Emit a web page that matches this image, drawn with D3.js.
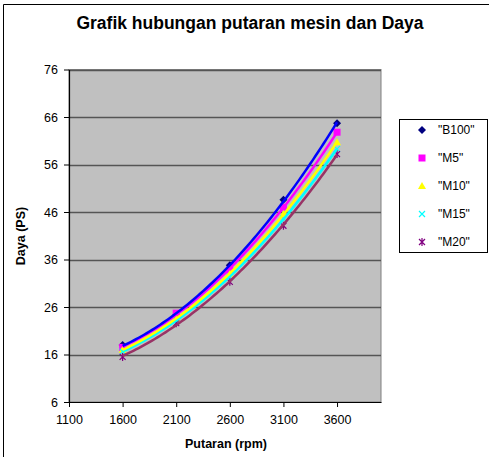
<!DOCTYPE html>
<html>
<head>
<meta charset="utf-8">
<script src="https://cdn.jsdelivr.net/npm/d3@7"></script>
<style>
  body { margin: 0; background: #fff; }
  svg { font-family: "Liberation Sans", Arial, sans-serif; }
</style>
</head>
<body>
<div id="chart"></div>
<script>
(() => {
    // data
    let rpm = [1600, 2100, 2600, 3100, 3600];
    let b100 = [18.0, 24.3, 34.8, 48.6, 64.7];
    let m5 = [17.5, 24.7, 33.8, 47.0, 62.8];
    let m10 = [17.0, 23.6, 33.0, 45.6, 60.7];
    let m15 = [16.6, 23.2, 32.3, 44.6, 59.3];
    let m20 = [15.5, 22.6, 31.3, 43.1, 58.2];
    let yTicks = [6, 16, 26, 36, 46, 56, 66, 76];
    let xTicks = [1100, 1600, 2100, 2600, 3100, 3600];

    let series = [
        {name: '"B100"', values: b100, line: '#0000ff', mark: '#000080', shape: 'diamond'},
        {name: '"M5"', values: m5, line: '#ff00ff', mark: '#ff00ff', shape: 'square'},
        {name: '"M10"', values: m10, line: '#ffff00', mark: '#ffff00', shape: 'triangle'},
        {name: '"M15"', values: m15, line: '#00ffff', mark: '#00ffff', shape: 'x'},
        {name: '"M20"', values: m20, line: '#993366', mark: '#800080', shape: 'star'}
    ];

    let W = 489, H = 457;
    let plot = {left: 69, top: 69.5, right: 381, bottom: 402};

    let svg = d3.select('#chart')
        .append('svg')
        .attr('width', W)
        .attr('height', H);

    // outer frame (only left and top visible in the reference)
    svg.append('path')
        .attr('d', `M3.5,${H} V4.5 H${W}`)
        .attr('fill', 'none')
        .attr('stroke', '#000');

    svg.append('text')
        .attr('x', 250).attr('y', 29)
        .attr('text-anchor', 'middle')
        .style('font-size', '17.5px').style('font-weight', 'bold')
        .text('Grafik hubungan putaran mesin dan Daya');

    let x = d3.scaleLinear().domain([1100, 4010]).range([plot.left, plot.right]);
    let y = d3.scaleLinear().domain([6, 76]).range([plot.bottom, plot.top]);

    svg.append('rect')
        .attr('x', plot.left).attr('y', plot.top)
        .attr('width', plot.right - plot.left).attr('height', plot.bottom - plot.top)
        .attr('fill', '#c0c0c0')
        .attr('stroke', '#808080');

    svg.append('g')
        .selectAll('line')
        .data(yTicks.slice(1))
        .enter()
        .append('line')
        .attr('x1', plot.left).attr('x2', plot.right)
        .attr('y1', d => Math.round(y(d)) + 0.5).attr('y2', d => Math.round(y(d)) + 0.5)
        .attr('stroke', '#555')
        .attr('stroke-width', 1.5);

    let fmt = d3.format('d');
    let yAxis = svg.append('g')
        .attr('transform', `translate(${plot.left},0)`)
        .call(d3.axisLeft(y).tickValues(yTicks).tickFormat(fmt).tickSize(5).tickPadding(6).tickSizeOuter(0));
    let xAxis = svg.append('g')
        .attr('transform', `translate(0,${plot.bottom})`)
        .call(d3.axisBottom(x).tickValues(xTicks).tickFormat(fmt).tickSize(5).tickPadding(8).tickSizeOuter(0));
    [yAxis, xAxis].forEach(a => {
        a.select('.domain').attr('stroke', '#000').attr('stroke-width', 1.2);
        a.selectAll('.tick line').attr('stroke', '#000');
        a.selectAll('text').style('font-size', '12.5px').attr('fill', '#000')
            .style('font-family', '"Liberation Sans", Arial, sans-serif');
    });

    svg.append('text')
        .attr('transform', 'translate(25,236) rotate(-90)')
        .attr('text-anchor', 'middle')
        .style('font-size', '12.5px').style('font-weight', 'bold')
        .text('Daya (PS)');
    svg.append('text')
        .attr('x', 226).attr('y', 448)
        .attr('text-anchor', 'middle')
        .style('font-size', '12.5px').style('font-weight', 'bold')
        .text('Putaran (rpm)');

    // 2nd order polynomial trend line (least squares), like the spreadsheet
    function polyFit(xs, ys) {
        let n = xs.length, s = [0, 0, 0, 0, 0], t = [0, 0, 0];
        for (let i = 0; i < n; i++) {
            let u = (xs[i] - 2600) / 1000;
            for (let k = 0; k < 5; k++) s[k] += Math.pow(u, k);
            for (let k = 0; k < 3; k++) t[k] += ys[i] * Math.pow(u, k);
        }
        let A = [[s[0], s[1], s[2], t[0]], [s[1], s[2], s[3], t[1]], [s[2], s[3], s[4], t[2]]];
        for (let i = 0; i < 3; i++) {
            for (let j = i + 1; j < 3; j++) {
                let f = A[j][i] / A[i][i];
                for (let k = i; k < 4; k++) A[j][k] -= f * A[i][k];
            }
        }
        let c = [0, 0, 0];
        for (let i = 2; i >= 0; i--) {
            let v = A[i][3];
            for (let k = i + 1; k < 3; k++) v -= A[i][k] * c[k];
            c[i] = v / A[i][i];
        }
        return v => { let u = (v - 2600) / 1000; return c[0] + c[1] * u + c[2] * u * u; };
    }

    let line = d3.line().x(d => x(d[0])).y(d => y(d[1]));
    let trendX = d3.range(1600, 3601, 25);

    // markers drawn under trend lines, as in the reference
    function marker(g, shape, color, size) {
        let s = size;
        if (shape === 'diamond') {
            g.append('path').attr('d', `M0,${-s}L${s},0L0,${s}L${-s},0Z`).attr('fill', color);
        } else if (shape === 'square') {
            g.append('rect').attr('x', -s + 0.5).attr('y', -s + 0.5).attr('width', 2 * s - 1).attr('height', 2 * s - 1).attr('fill', color);
        } else if (shape === 'triangle') {
            g.append('path').attr('d', `M0,${-s}L${s},${s - 1}L${-s},${s - 1}Z`).attr('fill', color);
        } else if (shape === 'x') {
            g.append('path').attr('d', `M${-s + 1},${-s + 1}L${s - 1},${s - 1}M${s - 1},${-s + 1}L${-s + 1},${s - 1}`)
                .attr('stroke', color).attr('stroke-width', 1.2);
        } else {
            g.append('path').attr('d', `M${-s + 1},${-s + 1}L${s - 1},${s - 1}M${s - 1},${-s + 1}L${-s + 1},${s - 1}M0,${-s}V${s}`)
                .attr('stroke', color).attr('stroke-width', 1.2);
        }
    }

    series.forEach(sr => {
        rpm.forEach((r, i) => {
            let g = svg.append('g').attr('transform', `translate(${x(r)},${y(sr.values[i])})`);
            marker(g, sr.shape, sr.mark, 4);
        });
    });

    series.slice().reverse().forEach(sr => {
        let f = polyFit(rpm, sr.values);
        svg.append('path')
            .datum(trendX.map(v => [v, f(v)]))
            .attr('d', line)
            .attr('fill', 'none')
            .attr('stroke', sr.line)
            .attr('stroke-width', 2.5);
    });

    // legend
    let leg = svg.append('g');
    leg.append('rect')
        .attr('x', 399.5).attr('y', 119.5)
        .attr('width', 88).attr('height', 133)
        .attr('fill', '#fff').attr('stroke', '#000');
    series.forEach((sr, i) => {
        let yy = 130 + i * 28;
        let g = leg.append('g').attr('transform', `translate(422,${yy})`);
        marker(g, sr.shape, sr.mark, 4);
        leg.append('text')
            .attr('x', 438).attr('y', yy + 4)
            .style('font-size', '12px')
            .text(sr.name);
    });
})();
</script>
</body>
</html>
